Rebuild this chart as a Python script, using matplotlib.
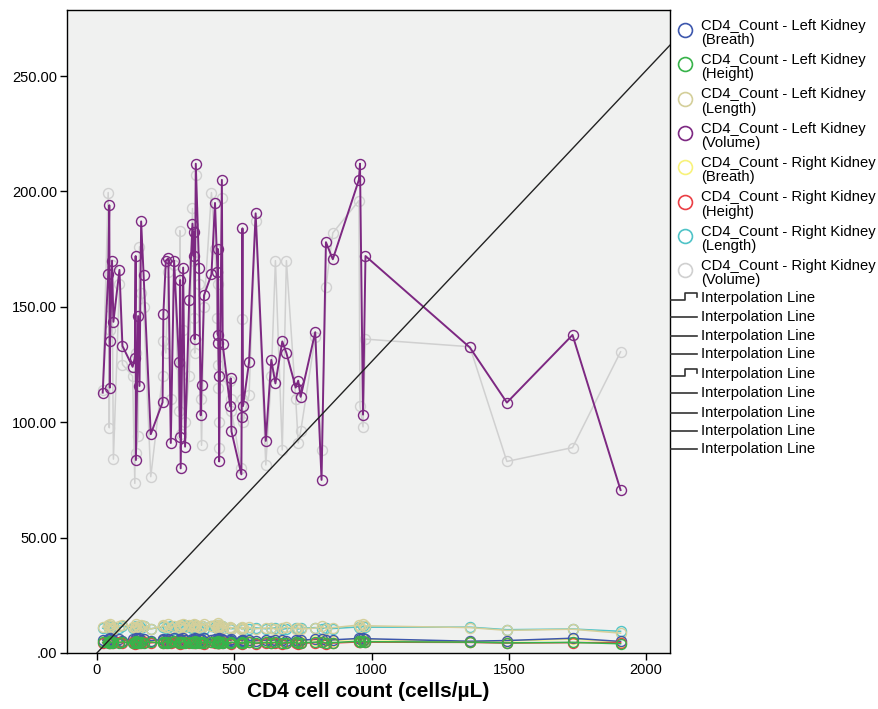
import numpy as np
import matplotlib
matplotlib.use('Agg')
import matplotlib.pyplot as plt

plt.rcParams['font.family'] = ['Liberation Sans', 'DejaVu Sans']

# CD4 count of each patient (x axis)
cd4 = [21, 41, 45, 47, 48, 55, 60, 82, 93, 130,
       138, 141, 142, 150, 155, 161, 170, 196, 239, 242,
       251, 260, 269, 281, 299, 302, 303, 305, 314, 321,
       336, 348, 352, 354, 356, 360, 372, 378, 381, 390,
       417, 430, 439, 440, 441, 442, 444, 445, 455, 458,
       485, 487, 490, 526, 527, 530, 532, 554, 578, 615,
       635, 650, 675, 690, 724, 733, 742, 795, 818, 834,
       859, 954, 958, 969, 978, 1358, 1493, 1732, 1907]

# kidney measures
left_breath = [5.6, 6.1, 5.3, 5.9, 6.4, 5.5, 5.8, 6.2, 5.4, 6.0,
               5.7, 6.3, 5.2, 5.9, 6.5, 5.6, 6.1, 5.4, 5.8, 6.2,
               5.5, 6.0, 5.7, 6.4, 5.3, 5.9, 6.1, 5.6, 6.3, 5.8,
               5.4, 6.0, 6.2, 5.7, 6.5, 5.5, 5.9, 6.1, 5.6, 6.3,
               5.8, 6.0, 5.4, 6.2, 5.7, 5.9, 6.4, 5.5, 6.1, 5.8,
               5.6, 5.3, 5.9, 5.4, 5.7, 5.2, 5.8, 5.5, 5.3, 5.6,
               5.4, 5.8, 5.5, 5.2, 5.7, 5.4, 5.6, 5.9, 6.1, 5.5,
               5.7, 6.3, 6.0, 6.6, 6.2, 5.1, 5.4, 6.4, 5.0]
left_height = [4.6, 4.9, 4.3, 4.7, 5.0, 4.4, 4.8, 4.5, 4.9, 4.2,
               4.6, 5.0, 4.4, 4.7, 4.3, 4.9, 4.5, 4.8, 4.2, 4.6,
               4.9, 4.4, 4.7, 5.0, 4.3, 4.6, 4.8, 4.5, 4.9, 4.4,
               4.7, 4.2, 4.8, 4.6, 5.0, 4.3, 4.7, 4.5, 4.9, 4.4,
               4.6, 4.8, 4.3, 4.7, 4.5, 5.0, 4.4, 4.8, 4.6, 4.2,
               4.5, 4.3, 4.7, 4.4, 4.6, 4.2, 4.5, 4.8, 4.3, 4.6,
               4.4, 4.7, 4.3, 4.5, 4.6, 4.2, 4.4, 4.7, 4.9, 4.3,
               4.5, 5.1, 4.8, 5.2, 4.9, 4.7, 4.4, 4.6, 4.0]
left_length = [11.2, 12.0, 10.8, 11.5, 12.4, 11.0, 10.6, 11.8, 12.2, 11.4,
               10.9, 12.6, 11.3, 11.9, 10.7, 12.1, 11.6, 10.4, 11.7, 12.3,
               11.1, 12.5, 10.8, 11.9, 11.4, 12.2, 10.9, 11.6, 12.7, 11.2,
               12.0, 11.5, 12.4, 10.8, 11.8, 12.1, 11.3, 10.6, 11.9, 12.6,
               11.7, 12.3, 11.0, 11.5, 12.8, 10.9, 11.4, 12.0, 11.6, 10.7,
               11.2, 10.4, 11.0, 10.6, 11.3, 10.2, 10.9, 11.1, 10.5, 10.8,
               11.0, 10.3, 10.7, 11.2, 10.6, 10.9, 10.4, 10.8, 11.5, 10.6,
               11.0, 12.1, 11.4, 12.4, 11.8, 11.0, 9.8, 10.3, 8.6]
left_volume = [112.8, 164, 194, 115, 135, 170, 143.5, 166, 133, 124,
               128, 172, 83.6, 146, 115.7, 187, 163.8, 94.8, 108.6, 147,
               170, 171, 91, 170, 126, 93.7, 161.6, 80, 167, 89.4,
               153, 186, 172, 182.6, 136, 212, 167, 103, 116, 155,
               164, 195, 165, 138, 175, 134.5, 120, 83, 205, 133.8,
               107, 119, 96, 77.4, 102.4, 184, 107, 126, 190.5, 91.9,
               127, 116.8, 135, 130, 115, 118, 111, 139, 75, 178,
               170.6, 205, 212, 103.3, 172, 132.4, 108.5, 137.8, 70.6]
right_breath = [5.3, 5.8, 5.1, 5.6, 6.0, 5.2, 5.5, 5.9, 5.0, 5.7,
                5.4, 6.1, 5.0, 5.6, 6.2, 5.3, 5.8, 5.1, 5.5, 5.9,
                5.2, 5.7, 5.4, 6.1, 5.0, 5.6, 5.8, 5.3, 6.0, 5.5,
                5.1, 5.7, 5.9, 5.4, 6.2, 5.2, 5.6, 5.8, 5.3, 6.0,
                5.5, 5.7, 5.1, 5.9, 5.4, 5.6, 6.1, 5.2, 5.8, 5.5,
                5.3, 5.0, 5.6, 5.1, 5.4, 4.9, 5.5, 5.2, 5.0, 5.3,
                5.1, 5.5, 5.2, 4.9, 5.4, 5.1, 5.3, 5.6, 5.8, 5.2,
                5.4, 6.0, 5.7, 6.2, 5.9, 4.9, 5.2, 6.0, 4.8]
right_height = [4.4, 4.8, 4.5, 4.2, 4.9, 4.6, 4.3, 4.7, 4.4, 4.8,
                4.1, 4.5, 4.9, 4.3, 4.6, 4.2, 4.8, 4.4, 4.7, 4.3,
                4.5, 4.9, 4.2, 4.6, 4.8, 4.1, 4.4, 4.7, 4.3, 4.9,
                4.5, 4.6, 4.2, 4.8, 4.4, 4.7, 4.3, 4.9, 4.5, 4.1,
                4.6, 4.4, 4.8, 4.2, 4.7, 4.5, 4.3, 4.9, 4.4, 4.6,
                4.3, 4.1, 4.5, 4.2, 4.4, 4.0, 4.3, 4.6, 4.1, 4.4,
                4.2, 4.5, 4.1, 4.3, 4.4, 4.0, 4.2, 4.5, 4.7, 4.1,
                4.3, 4.8, 4.6, 5.0, 4.7, 4.6, 4.3, 4.5, 4.5]
right_length = [10.8, 11.5, 11.0, 10.6, 11.9, 10.4, 11.2, 11.0, 11.6, 10.9,
                11.3, 11.8, 10.7, 11.1, 11.5, 10.8, 11.9, 10.5, 11.2, 11.6,
                10.9, 11.4, 11.7, 10.6, 11.0, 11.8, 11.3, 10.8, 11.5, 12.0,
                11.1, 10.7, 11.6, 11.2, 12.1, 10.9, 11.4, 11.0, 11.7, 10.6,
                11.9, 11.2, 10.8, 11.6, 11.3, 12.2, 10.7, 11.1, 11.8, 10.9,
                10.6, 11.0, 10.5, 10.8, 10.4, 11.0, 10.6, 10.2, 10.9, 10.5,
                10.7, 10.9, 10.3, 10.6, 10.8, 10.4, 10.7, 11.0, 10.5, 10.9,
                10.6, 11.3, 10.8, 11.6, 11.2, 11.2, 10.1, 10.4, 9.4]
right_volume = [114, 199.5, 97.6, 150, 140, 168, 84, 160, 125, 120,
                73.5, 130, 86.5, 94, 176, 156, 150, 76.4, 120, 135,
                130, 165, 110, 168, 105, 183, 125, 95, 140, 100,
                120, 192.6, 170, 145, 130, 207, 160, 110, 90, 150,
                199.5, 175, 145, 125, 160, 115, 89, 100, 197, 120,
                118, 110, 105, 80, 144.6, 110, 100, 112, 187, 81.5,
                120, 170, 88, 170, 110, 91, 96, 137, 88, 158.7,
                182, 196, 107, 98, 136, 132.7, 83, 89, 130.5]

series_labels = ['CD4_Count - Left Kidney\n(Breath)', 'CD4_Count - Left Kidney\n(Height)',
                 'CD4_Count - Left Kidney\n(Length)', 'CD4_Count - Left Kidney\n(Volume)',
                 'CD4_Count - Right Kidney\n(Breath)', 'CD4_Count - Right Kidney\n(Height)',
                 'CD4_Count - Right Kidney\n(Length)', 'CD4_Count - Right Kidney\n(Volume)']
series_values = [left_breath, left_height, left_length, left_volume,
                 right_breath, right_height, right_length, right_volume]
colors = ['#3D57AD', '#37B34A', '#D4CF9A', '#7D2882',
          '#F8F27A', '#EA3F45', '#4FC3C7', '#D0D0D0']
zorders = [4, 5, 3, 8, 2, 4.5, 2.5, 7]

ref_slope = 0.1262  # reference line through origin
y_ticks = [0, 50, 100, 150, 200, 250]
y_tick_labels = ['.00', '50.00', '100.00', '150.00', '200.00', '250.00']
x_ticks = [0, 500, 1000, 1500, 2000]

fig = plt.figure(figsize=(8.79, 7.09), dpi=100)
ax = fig.add_axes([67/879, 1 - 653/709, (670 - 67)/879, (653 - 10)/709])
ax.set_facecolor('#F0F1F0')

for vals, col, z in zip(series_values, colors, zorders):
    lw = 1.4 if col == '#7D2882' else 1.1
    ax.plot(cd4, vals, color=col, lw=lw, zorder=z, marker='o', markersize=7.2,
            markerfacecolor='none', markeredgecolor=col, markeredgewidth=1.0)

xr = np.array([0, 2200])
ax.plot(xr, ref_slope * xr, color='#222222', lw=1.0, zorder=9)

ax.set_xlim(-109, 2087)
ax.set_ylim(0, 278.6)
ax.set_xticks(x_ticks)
ax.set_yticks(y_ticks)
ax.set_yticklabels(y_tick_labels)
ax.tick_params(direction='out', length=5, width=1, labelsize=10.5, colors='black', pad=2)
ax.set_xlabel('CD4 cell count (cells/µL)', fontsize=15, fontweight='bold', labelpad=4)
for s in ax.spines.values():
    s.set_linewidth(1.0)
    s.set_color('black')

# legend panel drawn in pixel coordinates
lg = fig.add_axes([670/879, 0, 209/879, 1])
lg.set_xlim(670, 879)
lg.set_ylim(709, 0)
lg.axis('off')
for i, (lab, col) in enumerate(zip(series_labels, colors)):
    yc = 30 + 34.3 * i
    lg.plot([685], [yc], marker='o', markersize=10, markerfacecolor='none',
            markeredgecolor=col, markeredgewidth=1.2)
    lg.text(701, yc + 3, lab, fontsize=10.6, va='center', ha='left', linespacing=1.02)

interp_y = [298.3, 317.3, 336, 354.3, 374.3, 392.7, 412.7, 430.7, 449.3]
for j, yy in enumerate(interp_y):
    if j in (0, 4):
        lg.plot([671, 685, 685, 697, 697], [yy + 1.5, yy + 1.5, yy - 5, yy - 5, yy - 1],
                color='#333333', lw=1.2)
    else:
        lg.plot([671, 697], [yy, yy], color='#333333', lw=1.2)
    lg.text(701, yy, 'Interpolation Line', fontsize=10.6, va='center', ha='left')

fig.savefig('out.png', dpi=100)
